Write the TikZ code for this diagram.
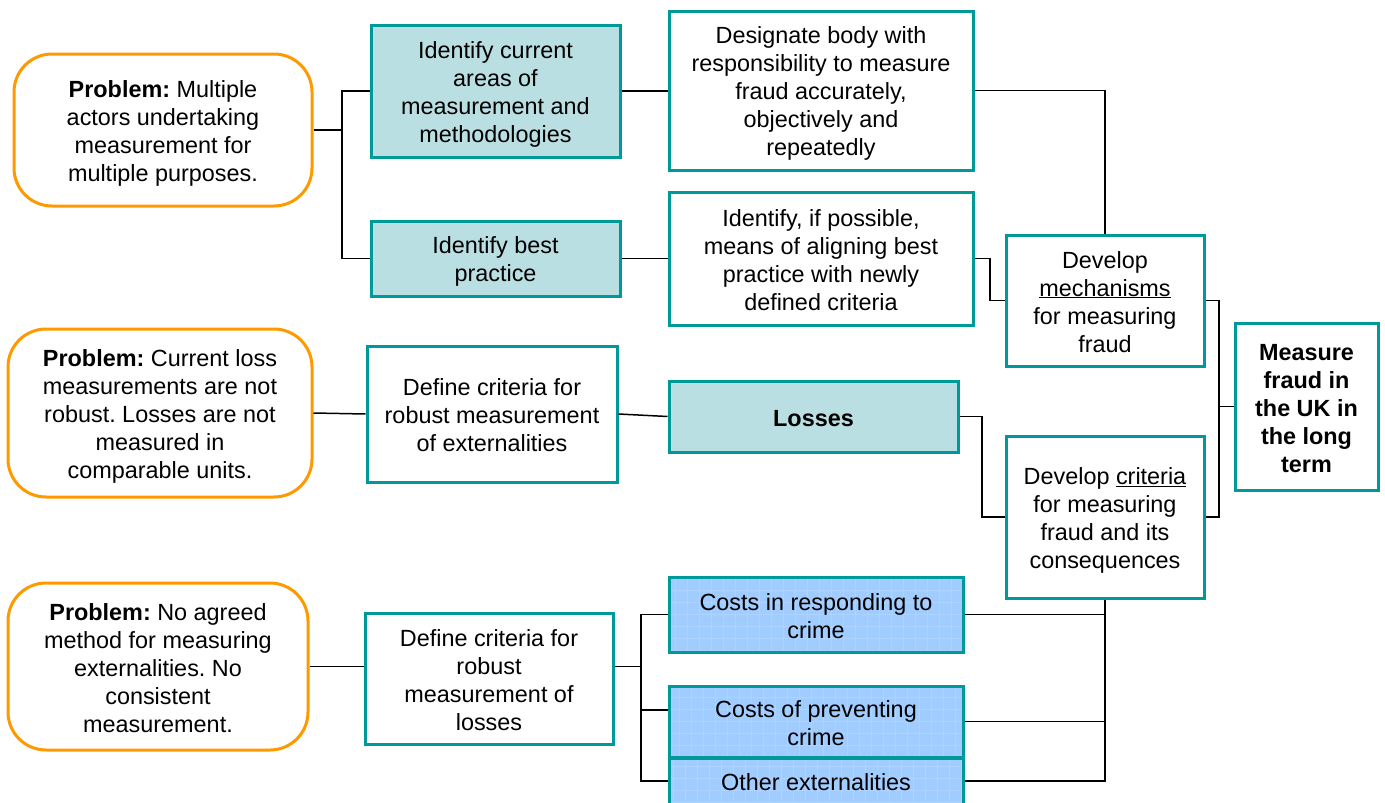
\documentclass[tikz,border=0pt]{standalone}
\usepackage{fontspec}
\setmainfont{Liberation Sans}
\frenchspacing
\definecolor{tealb}{RGB}{0,153,153}
\definecolor{tealf}{RGB}{186,223,226}
\definecolor{bluef}{RGB}{160,204,255}
\definecolor{blueg}{RGB}{174,211,255}
\definecolor{orangeb}{RGB}{255,153,0}
\newcommand{\ts}{\rule{0pt}{23.5pt}}
\newcommand{\bs}{\rule[-4.5pt]{0pt}{4.5pt}}
\tikzset{
  base/.style={align=center, inner sep=0pt, font=\fontsize{23.4}{28}\selectfont\frenchspacing},
  tealbox/.style={base, draw=tealb, line width=3pt, fill=white},
  lightbox/.style={tealbox, fill=tealf},
  bluebox/.style={tealbox, fill=bluef, path picture={\draw[blueg, line width=0.6pt] (path picture bounding box.south west) grid[step=12pt] (path picture bounding box.north east);}},
  probbox/.style={base, draw=orangeb, line width=3pt, fill=white, rounded corners=38pt},
  conn/.style={draw=black, line width=1.5pt},
}
\begin{document}
\begin{tikzpicture}[x=1pt,y=-1pt]
\useasboundingbox (0,0) rectangle (1385,803);
\clip (0,0) rectangle (1385,803);
\fill[white] (0,0) rectangle (1385,803);

% problem boxes
\node[probbox, minimum width=298pt, minimum height=152pt] (P1) at (163,130) {\ts\textbf{Problem:} Multiple\\actors undertaking\\measurement for\\multiple purposes.\bs};
\node[probbox, minimum width=304pt, minimum height=168pt] (P2) at (160,413) {\ts\textbf{Problem:} Current loss\\measurements are not\\robust. Losses are not\\measured in\\comparable units.\bs};
\node[probbox, minimum width=300pt, minimum height=167pt] (P3) at (158,666.5) {\ts\textbf{Problem:} No agreed\\method for measuring\\externalities. No\\consistent\\measurement.\bs};

% second column
\node[lightbox, minimum width=249pt, minimum height=132pt] (A1) at (495.5,91) {\ts Identify current\\areas of\\measurement and\\methodologies\bs};
\node[lightbox, minimum width=249pt, minimum height=75pt] (A2) at (495.5,258.5) {\ts Identify best\\practice\bs};
\node[tealbox, minimum width=250pt, minimum height=136pt] (F1) at (492,414) {\ts Define criteria for\\robust measurement\\of externalities\bs};
\node[tealbox, minimum width=248pt, minimum height=131pt] (F2) at (489,678.5) {\ts Define criteria for\\robust\\measurement of\\losses\bs};

% third column
\node[tealbox, minimum width=304pt, minimum height=159pt] (B1) at (821,90.5) {\ts Designate body with\\responsibility to measure\\fraud accurately,\\objectively and\\repeatedly\bs};
\node[tealbox, minimum width=304pt, minimum height=133pt] (B2) at (821,258.5) {\ts Identify, if possible,\\means of aligning best\\practice with newly\\defined criteria\bs};
\node[lightbox, minimum width=289pt, minimum height=71pt] (L) at (813.5,416.5) {\ts\textbf{Losses}\bs};
\node[bluebox, minimum width=294pt, minimum height=75pt] (E1) at (816,614.5) {\ts Costs in responding to\\crime\bs};
\node[bluebox, minimum width=294pt, minimum height=71pt] (E2) at (816,721.5) {\ts Costs of preventing\\crime\bs};
\node[bluebox, minimum width=294pt, minimum height=46pt] (E3) at (816,781) {\ts Other externalities\bs};

% fourth column
\node[tealbox, minimum width=198pt, minimum height=131pt] (C1) at (1105,300.5) {\ts Develop\\\underline{mechanisms}\\for measuring\\fraud\bs};
\node[tealbox, minimum width=198pt, minimum height=162pt] (C2) at (1105,517) {\ts Develop \underline{criteria}\\for measuring\\fraud and its\\consequences\bs};
\node[tealbox, minimum width=143pt, minimum height=167pt] (D) at (1306.5,406.5) {\ts\textbf{Measure}\\\textbf{fraud in}\\\textbf{the UK in}\\\textbf{the long}\\\textbf{term}\bs};

% junction coordinates
\coordinate (j1) at (342,130);
\coordinate (j2) at (990,258.5);
\coordinate (j3) at (1219,406.5);
\coordinate (j4) at (982,416.5);
\coordinate (jL) at (641,666.5);

% connectors
\draw[conn] (P1.east) -- (j1);
\draw[conn] (A1.west) -- (A1.west -| j1) -- (A2.west -| j1) -- (A2.west);
\draw[conn] (A1.east) -- (A1.east -| B1.west);
\draw[conn] (A2.east) -- (B2.west);
\draw[conn] (B1.east) -| (C1.north);
\draw[conn] (B2.east) -- (j2) |- (C1.west);
\draw[conn] (C1.east) -- (C1.east -| j3) -- (C2.east -| j3) -- (C2.east);
\draw[conn] (D.west) -- (j3);
\draw[conn] (P2.east) -- (F1.west);
\draw[conn] (F1.east) -- (L.west);
\draw[conn] (L.east) -- (j4) |- (C2.west);
\draw[conn] (P3.east) -- (P3.east -| F2.west);
\draw[conn] (P3.east -| F2.east) -- (jL);
\draw[conn] (E1.west) -- (E1.west -| jL) -- (E3.west -| jL) -- (E3.west);
\draw[conn] ([yshift=11.5pt]E2.west) -- ([yshift=11.5pt]E2.west -| jL);
\draw[conn] (C2.south) -- (C2.south |- E3.east) -- (E3.east);
\draw[conn] (E1.east) -- (E1.east -| C2.south);
\draw[conn] (E2.east) -- (E2.east -| C2.south);
\end{tikzpicture}
\end{document}
